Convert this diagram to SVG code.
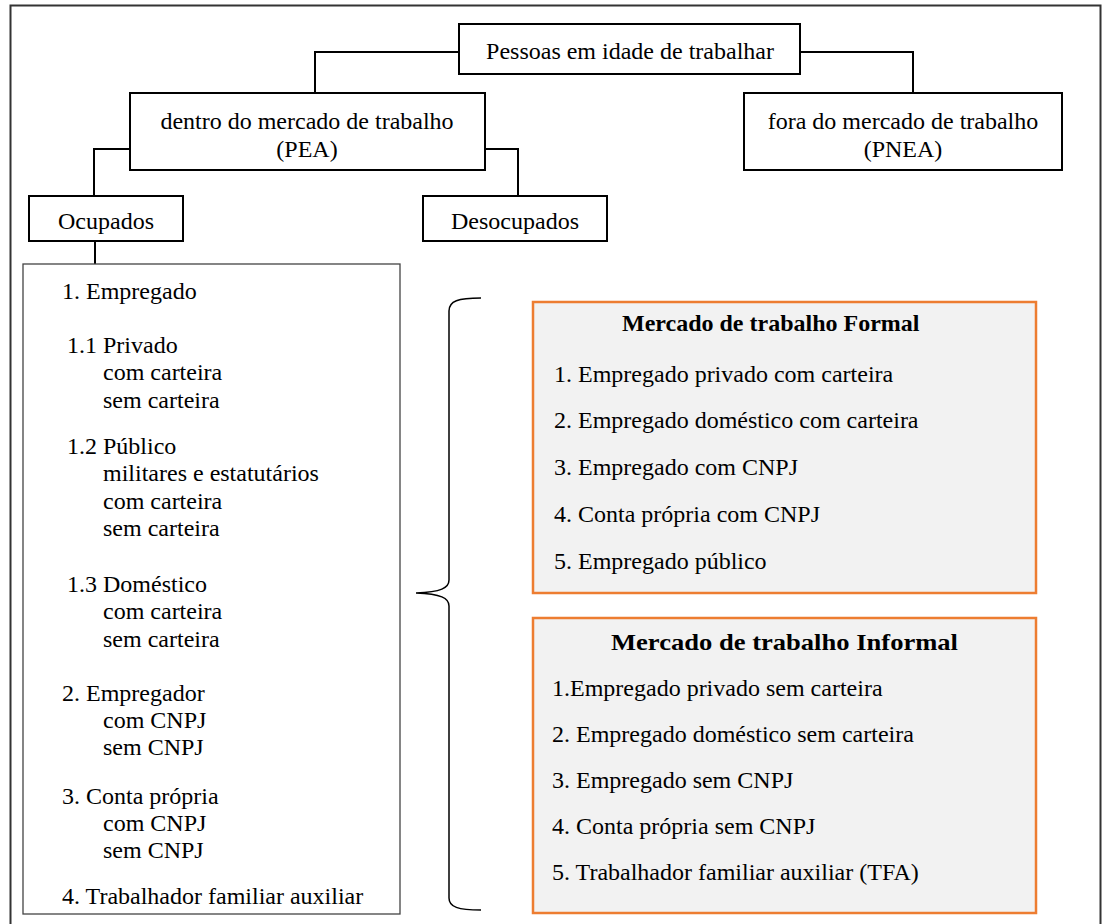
<svg xmlns="http://www.w3.org/2000/svg" width="1103" height="924" viewBox="0 0 1103 924">
<style>
.box{fill:#fff;stroke:#000;stroke-width:2}
.list{fill:#fff;stroke:#444;stroke-width:1.3}
.orange{fill:#f2f2f2;stroke:#ed7d31;stroke-width:2.5}
.conn{fill:none;stroke:#000;stroke-width:2}
.brace{fill:none;stroke:#000;stroke-width:1.5}
text{font-family:"Liberation Serif","Times New Roman",serif;font-size:24px;fill:#000}
.c{text-anchor:middle}
.b{font-weight:bold}
</style>
<rect x="10.5" y="5.5" width="1090" height="930" fill="none" stroke="#333" stroke-width="2"/>
<g id="connectors">
<path class="conn" d="M459,52 H315 V93"/>
<path class="conn" d="M800,52 H913 V93"/>
<path class="conn" d="M130,149 H94 V196"/>
<path class="conn" d="M485,149 H518 V196"/>
<path class="conn" d="M95,241 V264"/>
<path class="brace" d="M481,298 C458,298 449,301 449,311 L449,580 C449,588 441,592 416,593 C441,594 449,598 449,606 L449,898 C449,907 458,910 481,910"/>
</g>
<g id="pessoas">
<rect class="box" x="459" y="24" width="341" height="50"/>
<text class="c" x="630" y="59">Pessoas em idade de trabalhar</text>
</g>
<g id="pea">
<rect class="box" x="130" y="93" width="355" height="77"/>
<text class="c" x="307" y="129">dentro do mercado de trabalho</text>
<text class="c" x="307" y="157">(PEA)</text>
</g>
<g id="pnea">
<rect class="box" x="744" y="93" width="318" height="77"/>
<text class="c" x="903" y="129">fora do mercado de trabalho</text>
<text class="c" x="903" y="157">(PNEA)</text>
</g>
<g id="ocupados">
<rect class="box" x="29" y="196" width="154" height="45"/>
<text class="c" x="106" y="229">Ocupados</text>
</g>
<g id="desocupados">
<rect class="box" x="423" y="196" width="184" height="45"/>
<text class="c" x="515" y="229">Desocupados</text>
</g>
<g id="lista">
<rect class="list" x="23" y="264" width="377" height="650"/>
<text x="62" y="299">1. Empregado</text>
<text x="67" y="353">1.1 Privado</text>
<text x="103" y="380">com carteira</text>
<text x="103" y="408">sem carteira</text>
<text x="67" y="454">1.2 Público</text>
<text x="103" y="481">militares e estatutários</text>
<text x="103" y="509">com carteira</text>
<text x="103" y="536">sem carteira</text>
<text x="67" y="592">1.3 Doméstico</text>
<text x="103" y="619">com carteira</text>
<text x="103" y="647">sem carteira</text>
<text x="62" y="701">2. Empregador</text>
<text x="103" y="728">com CNPJ</text>
<text x="103" y="755">sem CNPJ</text>
<text x="62" y="804">3. Conta própria</text>
<text x="103" y="831">com CNPJ</text>
<text x="103" y="858">sem CNPJ</text>
<text x="62" y="904">4. Trabalhador familiar auxiliar</text>
</g>
<g id="formal">
<rect class="orange" x="533" y="302" width="503" height="291"/>
<text class="b" x="622" y="331" font-size="22">Mercado de trabalho Formal</text>
<text x="554" y="382">1. Empregado privado com carteira</text>
<text x="554" y="428">2. Empregado doméstico com carteira</text>
<text x="554" y="475">3. Empregado com CNPJ</text>
<text x="554" y="522">4. Conta própria com CNPJ</text>
<text x="554" y="569">5. Empregado público</text>
</g>
<g id="informal">
<rect class="orange" x="533" y="618" width="503" height="295"/>
<text class="b" x="611" y="650" font-size="27" textLength="347" lengthAdjust="spacingAndGlyphs">Mercado de trabalho Informal</text>
<text x="552" y="696">1.Empregado privado sem carteira</text>
<text x="552" y="742">2. Empregado doméstico sem carteira</text>
<text x="552" y="788">3. Empregado sem CNPJ</text>
<text x="552" y="834">4. Conta própria sem CNPJ</text>
<text x="552" y="880">5. Trabalhador familiar auxiliar (TFA)</text>
</g>
</svg>
